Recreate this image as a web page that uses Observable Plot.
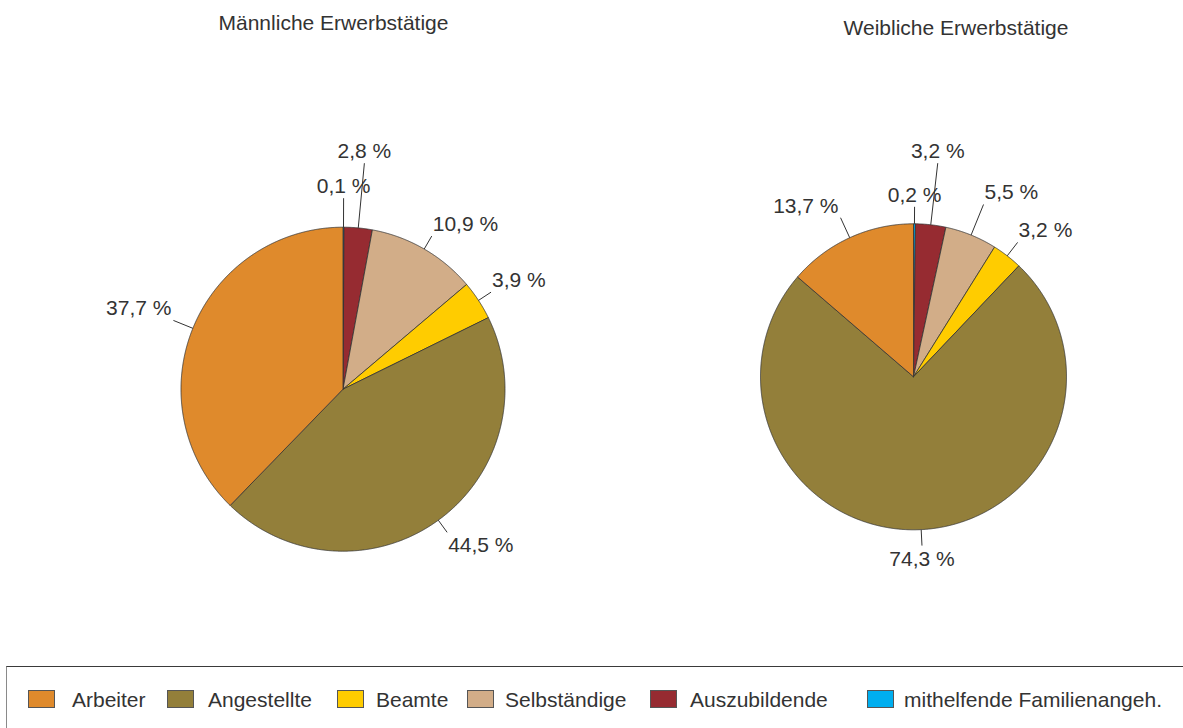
<!DOCTYPE html>
<html>
<head>
<meta charset="utf-8">
<script src="https://cdn.jsdelivr.net/npm/d3@7"></script>
<script src="https://cdn.jsdelivr.net/npm/@observablehq/plot@0.6"></script>
<style>
  html, body { margin: 0; padding: 0; background: #fff; }
  #chart { position: relative; width: 1183px; height: 728px; overflow: hidden; background: #fff;
           font-family: "Liberation Sans", Arial, sans-serif; color: #333; }
  .pie { position: absolute; top: 0; }
  .title { position: absolute; width: 400px; text-align: center; font-size: 21px; line-height: 21px; color: #333; white-space: nowrap; }
  #legend { position: absolute; left: 6px; top: 666px; width: 1200px; height: 100px;
            border-top: 1px solid #3a3a3a; border-left: 1px solid #8a8a8a; box-sizing: border-box; }
  .sw { position: absolute; width: 27px; height: 18px; box-sizing: border-box; border: 1px solid #555; }
  .lt { position: absolute; font-size: 21px; line-height: 21px; color: #333; white-space: nowrap; }
</style>
</head>
<body>
<div id="chart"></div>
<script>
// ---------------- data ----------------
const categories = ["Arbeiter", "Angestellte", "Beamte", "Selbständige", "Auszubildende", "mithelfende Familienangeh."];
const maleShares   = [37.7, 44.5, 3.9, 10.9, 2.8, 0.1];
const femaleShares = [13.7, 74.3, 3.2, 5.5, 3.2, 0.2];
const pieTitles = ["Männliche Erwerbstätige", "Weibliche Erwerbstätige"];

// ---------------- style / layout ----------------
const colors = ["#DF8A2C", "#937F3A", "#FFCC00", "#D2AD88", "#962B31", "#00AEEF"];
const layouts = [
  {left: 0,   width: 591, height: 620, cx: 342.5, cy: 388.7, R: 162, leader: [21, 15, 15, 15, 65, 29],
   title: {cx: 333.5, top: 12}},
  {left: 591, width: 592, height: 620, cx: 322,   cy: 376.3, R: 153, leader: [22, 16, 17, 33, 62, 17],
   title: {cx: 956, top: 17}}
];
const legendX = [[21, 65], [160, 201], [330, 369], [460, 498], [643, 683], [860, 897]]; // relative to legend box
const fmt = v => v.toFixed(1).replace(".", ",") + " %";

const chart = document.getElementById("chart");

function makePie(shares, L) {
  // clockwise from 12 o'clock, starting with the last category
  const order = d3.range(categories.length).reverse();
  const arcs = d3.pie().sort(null).value(i => shares[i]).startAngle(0).endAngle(2 * Math.PI)(order);
  const poly = [];
  const labels = [];
  for (const a of arcs) {
    const i = a.data;
    const cat = categories[i];
    poly.push({cat, x: 0, y: 0});
    const n = Math.max(2, Math.ceil((a.endAngle - a.startAngle) / (Math.PI / 720)));
    for (let k = 0; k <= n; k++) {
      const t = a.startAngle + (a.endAngle - a.startAngle) * k / n;
      poly.push({cat, x: Math.sin(t), y: Math.cos(t)});
    }
    poly.push({cat, x: 0, y: 0});
    const mid = (a.startAngle + a.endAngle) / 2;
    const r2 = 1 + L.leader[i] / L.R;
    const sx = Math.sin(mid), cy = Math.cos(mid);
    labels.push({
      cat, label: fmt(shares[i]),
      x1: sx, y1: cy, x2: sx * r2, y2: cy * r2,
      ta: Math.abs(sx) < 0.2 ? "middle" : sx > 0 ? "start" : "end",
      la: cy > 0 ? "bottom" : "top"
    });
  }
  const textMarks = [];
  for (const ta of ["start", "middle", "end"]) for (const la of ["top", "bottom"]) {
    const sub = labels.filter(d => d.ta === ta && d.la === la);
    if (!sub.length) continue;
    textMarks.push(Plot.text(sub, {
      x: "x2", y: "y2", text: "label", textAnchor: ta, lineAnchor: la,
      dx: ta === "end" ? -2 : ta === "start" ? 1 : 0,
      dy: la === "top" ? 5 : -5,
      fill: "#333", fontSize: 21
    }));
  }
  return Plot.plot({
    width: L.width, height: L.height,
    marginTop: 0, marginRight: 0, marginBottom: 0, marginLeft: 0,
    x: {domain: [-L.cx / L.R, (L.width - L.cx) / L.R], axis: null},
    y: {domain: [-(L.height - L.cy) / L.R, L.cy / L.R], axis: null},
    color: {domain: categories, range: colors},
    style: {fontFamily: "'Liberation Sans', Arial, sans-serif", overflow: "visible", background: "transparent"},
    marks: [
      Plot.line(poly, {x: "x", y: "y", z: "cat", fill: "cat", stroke: "#333", strokeWidth: 0.8, strokeLinejoin: "miter"}),
      Plot.link(labels, {x1: "x1", y1: "y1", x2: "x2", y2: "y2", stroke: "#333", strokeWidth: 1}),
      ...textMarks
    ]
  });
}

[maleShares, femaleShares].forEach((shares, j) => {
  const L = layouts[j];
  const holder = document.createElement("div");
  holder.className = "pie";
  holder.style.left = L.left + "px";
  holder.appendChild(makePie(shares, L));
  chart.appendChild(holder);
  const t = document.createElement("div");
  t.className = "title";
  t.textContent = pieTitles[j];
  t.style.left = (L.title.cx - 200) + "px";
  t.style.top = L.title.top + "px";
  chart.appendChild(t);
});

// legend
const legend = document.createElement("div");
legend.id = "legend";
categories.forEach((c, i) => {
  const sw = document.createElement("div");
  sw.className = "sw";
  sw.style.background = colors[i];
  sw.style.left = legendX[i][0] + "px";
  sw.style.top = "23px";
  legend.appendChild(sw);
  const lt = document.createElement("div");
  lt.className = "lt";
  lt.textContent = c;
  lt.style.left = legendX[i][1] + "px";
  lt.style.top = "22px";
  legend.appendChild(lt);
});
chart.appendChild(legend);
</script>
</body>
</html>
